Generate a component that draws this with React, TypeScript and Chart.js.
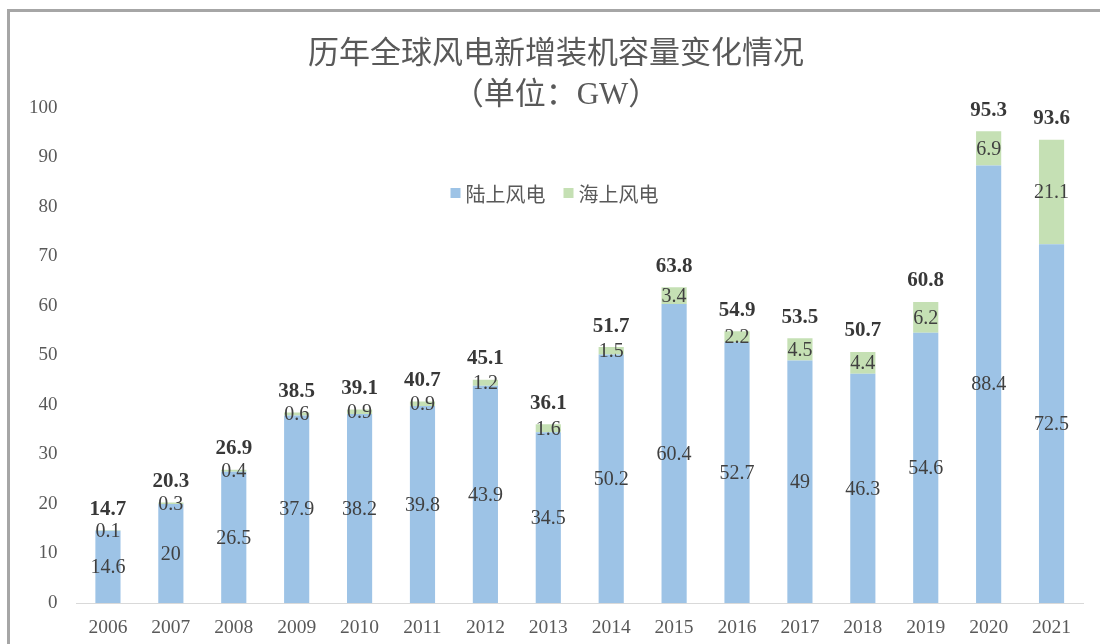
import React, { useEffect, useRef } from 'react';
import { Chart, registerables } from 'chart.js';

Chart.register(...registerables);

const years = ['2006', '2007', '2008', '2009', '2010', '2011', '2012', '2013', '2014', '2015', '2016', '2017', '2018', '2019', '2020', '2021'];
const onshore = [14.6, 20, 26.5, 37.9, 38.2, 39.8, 43.9, 34.5, 50.2, 60.4, 52.7, 49, 46.3, 54.6, 88.4, 72.5];
const offshore = [0.1, 0.3, 0.4, 0.6, 0.9, 0.9, 1.2, 1.6, 1.5, 3.4, 2.2, 4.5, 4.4, 6.2, 6.9, 21.1];
const totals = [14.7, 20.3, 26.9, 38.5, 39.1, 40.7, 45.1, 36.1, 51.7, 63.8, 54.9, 53.5, 50.7, 60.8, 95.3, 93.6];
const seriesNames = ['陆上风电', '海上风电'];
const titleLines = ['历年全球风电新增装机容量变化情况', '（单位：GW）'];

const SERIF = "'Liberation Serif', 'Times New Roman', serif";
const CJK = "'Liberation Serif', 'Noto Sans CJK SC', serif";
const BLUE = '#9DC3E6';
const GREEN = '#C5E0B4';

const labelPlugin = {
  id: 'barLabels',
  afterDatasetsDraw(chart: any) {
    const ctx = chart.ctx;
    ctx.save();
    ctx.textAlign = 'center';
    ctx.textBaseline = 'middle';
    ctx.font = `20px ${SERIF}`;
    ctx.fillStyle = '#404040';
    chart.data.datasets.forEach((ds: any, di: number) => {
      const meta = chart.getDatasetMeta(di);
      meta.data.forEach((bar: any, i: number) => {
        const p = bar.getProps(['x', 'y', 'base'], true);
        ctx.fillText(String(ds.data[i]), p.x, (p.y + p.base) / 2 + 1);
      });
    });
    const yScale = chart.scales.y;
    const meta0 = chart.getDatasetMeta(0);
    ctx.font = `bold 21px ${SERIF}`;
    ctx.fillStyle = '#383838';
    meta0.data.forEach((bar: any, i: number) => {
      const p = bar.getProps(['x'], true);
      ctx.fillText(String(totals[i]), p.x, yScale.getPixelForValue(totals[i]) - 21);
    });
    ctx.restore();
  },
};

const legendPlugin = {
  id: 'innerLegend',
  afterDraw(chart: any) {
    const ctx = chart.ctx;
    const area = chart.chartArea;
    ctx.save();
    ctx.font = `20px 'Noto Sans CJK SC', sans-serif`;
    ctx.textBaseline = 'middle';
    ctx.textAlign = 'left';
    const items = chart.data.datasets.map((ds: any) => ({ text: ds.label, color: ds.backgroundColor }));
    const box = 10;
    const gapBox = 5;
    const gapItem = 18;
    let total = 0;
    items.forEach((it: any, i: number) => {
      total += box + gapBox + ctx.measureText(it.text).width;
      if (i > 0) total += gapItem;
    });
    let x = 554.5 - total / 2;
    const cy = area.top + 85;
    items.forEach((it: any) => {
      ctx.fillStyle = it.color;
      ctx.fillRect(x, cy - box / 2, box, box);
      x += box + gapBox;
      ctx.fillStyle = '#595959';
      ctx.fillText(it.text, x, cy + 1);
      x += ctx.measureText(it.text).width + gapItem;
    });
    ctx.restore();
  },
};

export default function App() {
  const ref = useRef<HTMLCanvasElement>(null);

  useEffect(() => {
    if (!ref.current) return;
    const chart = new Chart(ref.current, {
      type: 'bar',
      data: {
        labels: years,
        datasets: [
          { label: seriesNames[0], data: onshore, backgroundColor: BLUE, borderWidth: 0 },
          { label: seriesNames[1], data: offshore, backgroundColor: GREEN, borderWidth: 0 },
        ],
      },
      options: {
        responsive: false,
        animation: false,
        devicePixelRatio: 1,
        layout: { padding: { left: 29, right: 17, top: 0, bottom: 0 } },
        datasets: { bar: { barPercentage: 0.4, categoryPercentage: 1.0 } },
        plugins: {
          legend: { display: false },
          tooltip: { enabled: false },
          title: {
            display: true,
            text: titleLines,
            color: '#595959',
            font: { family: CJK, size: 31, weight: 'normal', lineHeight: 41 / 31 },
            padding: { top: 34, bottom: -8 },
          },
        },
        scales: {
          x: {
            stacked: true,
            grid: { display: false, drawTicks: false },
            border: { display: true, color: '#D9D9D9', width: 1 },
            ticks: { color: '#595959', font: { family: SERIF, size: 19.5 }, padding: 13, maxRotation: 0 },
            afterFit: (s: any) => { s.height = 41; },
          },
          y: {
            stacked: true,
            min: 0,
            max: 100,
            grid: { display: false, drawTicks: false },
            border: { display: false },
            ticks: { stepSize: 10, color: '#595959', font: { family: SERIF, size: 19 }, padding: 19 },
            afterFit: (s: any) => { s.width = 47.5; },
          },
        },
      },
      plugins: [labelPlugin, legendPlugin],
    });
    return () => chart.destroy();
  }, []);

  return (
    <div style={{ position: 'absolute', left: 0, top: 0, width: 1100, height: 644, overflow: 'hidden', background: '#ffffff' }}>
      <canvas ref={ref} width={1100} height={644} style={{ position: 'absolute', left: 0, top: 0 }} />
      <div
        style={{
          position: 'absolute',
          left: 7,
          top: 9,
          width: 1200,
          height: 800,
          borderTop: '3px solid #A6A6A6',
          borderLeft: '3px solid #A6A6A6',
          pointerEvents: 'none',
        }}
      />
    </div>
  );
}
